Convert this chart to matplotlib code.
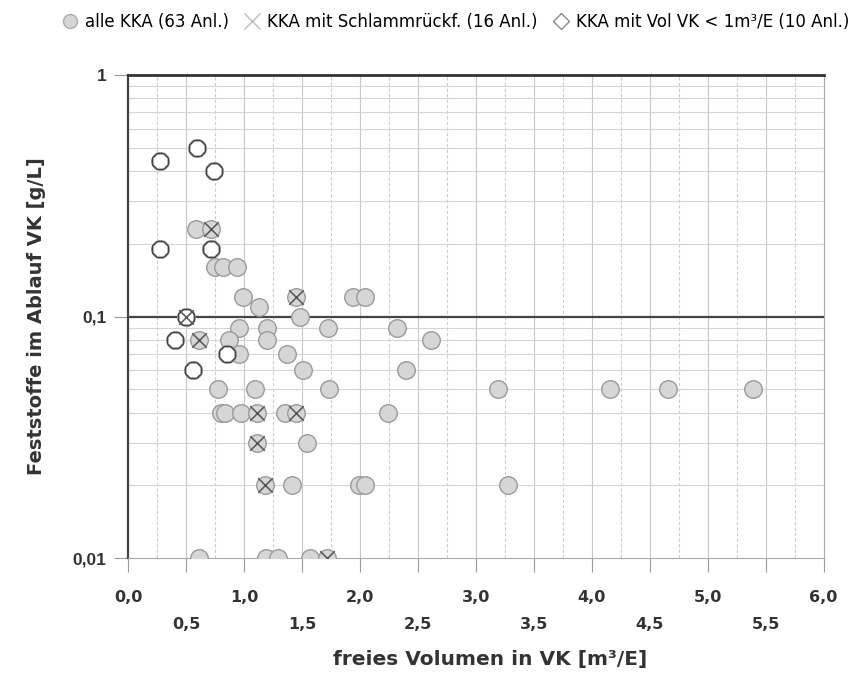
import numpy as np
import matplotlib.pyplot as plt
from matplotlib.lines import Line2D
from matplotlib.ticker import FixedLocator, NullFormatter

plt.rcParams['font.family'] = ['DejaVu Sans']

# alle KKA (grey circles)
alle_x = [0.58, 0.71, 0.75, 0.82, 0.94, 0.99, 1.13, 1.45, 1.48, 0.50,
          0.61, 0.955, 1.20, 0.87, 1.20, 0.955, 1.365, 1.51, 0.77, 1.09,
          0.80, 0.83, 0.975, 1.11, 1.35, 1.45, 1.11, 1.54, 1.18, 1.41,
          1.94, 2.04, 1.72, 2.32, 2.61, 2.40, 1.73, 3.19, 2.24, 1.99,
          2.04, 3.28, 4.16, 4.66, 5.39, 0.61, 1.19, 1.29, 1.57, 1.71,
          0.27, 0.59, 0.74, 0.27, 0.71, 0.40, 0.85, 0.56]
alle_y = [0.23, 0.23, 0.16, 0.16, 0.16, 0.12, 0.11, 0.12, 0.10, 0.10,
          0.08, 0.09, 0.09, 0.08, 0.08, 0.07, 0.07, 0.06, 0.05, 0.05,
          0.04, 0.04, 0.04, 0.04, 0.04, 0.04, 0.03, 0.03, 0.02, 0.02,
          0.12, 0.12, 0.09, 0.09, 0.08, 0.06, 0.05, 0.05, 0.04, 0.02,
          0.02, 0.02, 0.05, 0.05, 0.05, 0.01, 0.01, 0.01, 0.01, 0.01,
          0.44, 0.50, 0.40, 0.19, 0.19, 0.08, 0.07, 0.06]

# KKA mit Schlammrückführung (x)
sr_x = [0.71, 1.45, 0.50, 0.61, 1.11, 1.45, 1.11, 1.18, 1.71]
sr_y = [0.23, 0.12, 0.10, 0.08, 0.04, 0.04, 0.03, 0.02, 0.01]

# KKA mit Vol VK < 1 m3/E (open diamonds)
vol_x = [0.27, 0.59, 0.74, 0.27, 0.71, 0.40, 0.85, 0.56, 0.50]
vol_y = [0.44, 0.50, 0.40, 0.19, 0.19, 0.08, 0.07, 0.06, 0.10]

xticks = np.arange(0, 6.01, 0.5)
xlabels = [f"{t:.1f}".replace('.', ',') if t % 1 == 0 else "\n" + f"{t:.1f}".replace('.', ',')
           for t in xticks]

fig = plt.figure(figsize=(8.5, 6.75), dpi=100)
ax = fig.add_axes([0.151, 0.173, 0.818, 0.716])
ax.set_yscale('log')
ax.set_xlim(0, 6)
ax.set_ylim(0.01, 1)

# grid
ax.xaxis.set_major_locator(FixedLocator(xticks))
ax.xaxis.set_minor_locator(FixedLocator(np.arange(0.25, 6, 0.5)))
ax.yaxis.set_major_locator(FixedLocator([0.01, 0.1, 1]))
ax.yaxis.set_minor_locator(FixedLocator([m * d for d in (0.01, 0.1) for m in range(2, 10)]))
ax.yaxis.set_minor_formatter(NullFormatter())
ax.grid(which='major', axis='x', color='#c8c8c8', lw=0.8)
ax.grid(which='minor', axis='x', color='#cccccc', lw=0.8, ls=(0, (3, 2)))
ax.grid(which='minor', axis='y', color='#d4d4d4', lw=0.8)
ax.axhline(0.1, color='#444444', lw=1.6, zorder=2)
ax.set_axisbelow(True)

ax.scatter(alle_x, alle_y, s=160, facecolor='#d6d6d6', edgecolor='#9a9a9a', lw=1.0, zorder=3)
ax.scatter(vol_x, vol_y, s=150, marker='8', facecolor='white', edgecolor='#444444', lw=1.1, zorder=4)
ax.scatter(sr_x, sr_y, s=110, marker='x', color='#555555', lw=1.1, zorder=5)

# spines and ticks
for s in ax.spines.values():
    s.set_color('#aaaaaa')
    s.set_linewidth(0.8)
ax.spines['top'].set_color('#333333')
ax.spines['top'].set_linewidth(2.0)
ax.spines['left'].set_color('#444444')
ax.spines['left'].set_linewidth(1.6)

ax.set_xticklabels(xlabels, fontsize=11.5, fontweight='bold', color='#333333', linespacing=1.95)
ax.tick_params(axis='x', which='major', length=10, color='#999999', pad=13)
ax.tick_params(axis='x', which='minor', length=0)
ax.set_yticklabels(['0,01', '0,1', '1'], fontsize=12.5, fontweight='bold', color='#333333',
                   family=['Liberation Sans', 'DejaVu Sans'])
ax.tick_params(axis='y', which='major', length=10, color='#999999', pad=6)
ax.tick_params(axis='y', which='minor', length=0)

ax.set_xlabel('freies Volumen in VK [m³/E]', fontsize=14.5, fontweight='bold', color='#333333')
ax.xaxis.set_label_coords(0.52, -0.19)
ax.set_ylabel('Feststoffe im Ablauf VK [g/L]', fontsize=14, fontweight='bold', color='#333333')
ax.yaxis.set_label_coords(-0.118, 0.5)

handles = [
    Line2D([], [], ls='none', marker='o', ms=10, mfc='#d6d6d6', mec='#aaaaaa'),
    Line2D([], [], ls='none', marker='x', ms=11, mec='#bbbbbb', mew=1.0),
    Line2D([], [], ls='none', marker='D', ms=8, mfc='white', mec='#888888'),
]
labels = ['alle KKA (63 Anl.)', 'KKA mit Schlammrückf. (16 Anl.)', 'KKA mit Vol VK < 1m³/E (10 Anl.)']
fig.legend(handles, labels, loc='upper center', bbox_to_anchor=(0.535, 1.003), ncol=3, frameon=False,
           fontsize=12, handletextpad=0.3, columnspacing=0.8, handlelength=1.2)

fig.savefig('out.png', dpi=100)
